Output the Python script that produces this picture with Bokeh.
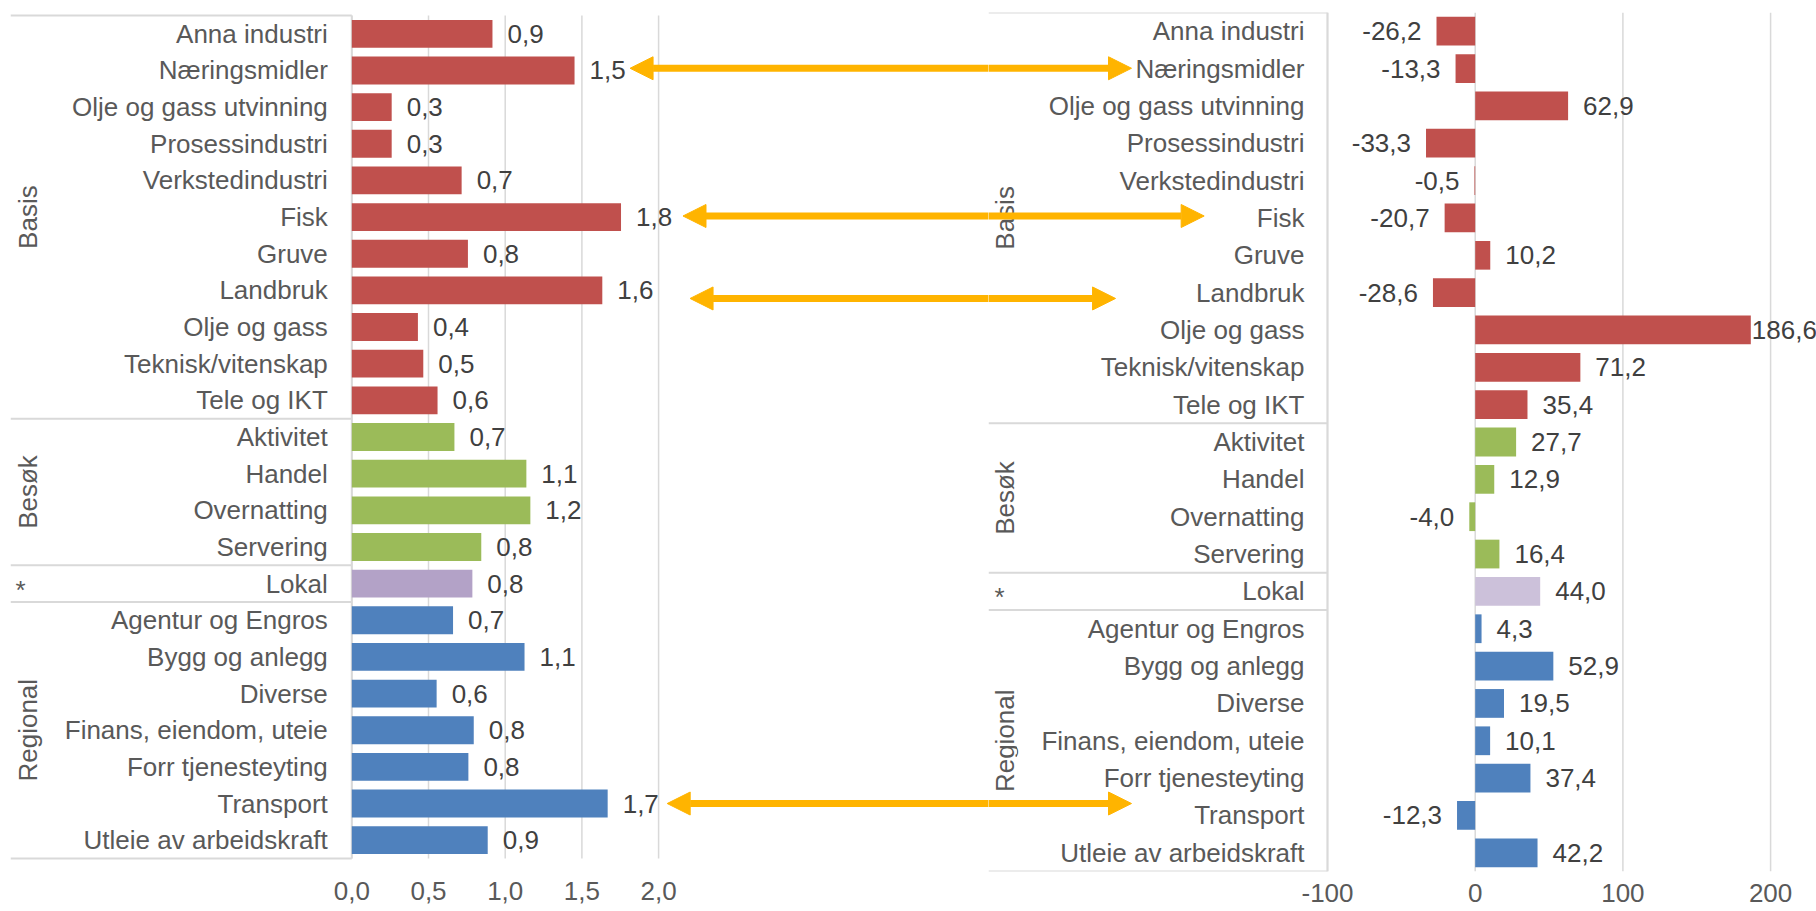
from bokeh.plotting import figure
from bokeh.models import Range1d, FixedTicker, CustomJSTickFormatter, Arrow, NormalHead
from bokeh.layouts import row
from bokeh.embed import file_html
from bokeh.resources import INLINE
from bokeh.core.properties import value

# ---------------- data ----------------
categories = ["Anna industri", "Næringsmidler", "Olje og gass utvinning", "Prosessindustri",
              "Verkstedindustri", "Fisk", "Gruve", "Landbruk", "Olje og gass",
              "Teknisk/vitenskap", "Tele og IKT", "Aktivitet", "Handel", "Overnatting",
              "Servering", "Lokal", "Agentur og Engros", "Bygg og anlegg", "Diverse",
              "Finans, eiendom, uteie", "Forr tjenesteyting", "Transport",
              "Utleie av arbeidskraft"]
groups = ["Basis"] * 11 + ["Besøk"] * 4 + ["*"] + ["Regional"] * 7
group_names = ["Basis", "Besøk", "*", "Regional"]

left_values = [0.917, 1.452, 0.26, 0.26, 0.716, 1.755, 0.757, 1.633, 0.431, 0.466, 0.559,
               0.669, 1.138, 1.164, 0.844, 0.786, 0.66, 1.126, 0.553, 0.795, 0.76, 1.668, 0.886]
right_values = [-26.2, -13.3, 62.9, -33.3, -0.5, -20.7, 10.2, -28.6, 186.6, 71.2, 35.4,
                27.7, 12.9, -4.0, 16.4, 44.0, 4.3, 52.9, 19.5, 10.1, 37.4, -12.3, 42.2]
left_ticks = [0, 0.5, 1.0, 1.5, 2.0]
right_ticks = [-100, 0, 100, 200]

arrow_rows = ["Næringsmidler", "Fisk", "Landbruk", "Transport"]

# ---------------- styles / layout ----------------
FONT = "Liberation Sans"
FS = "26px"
CAT_COLOR = "#595959"
LAB_COLOR = "#404040"
GRID = "#D9D9D9"
ORANGE = "#FFB400"
left_colors = {"Basis": "#C0504D", "Besøk": "#9BBB59", "*": "#B3A2C7", "Regional": "#4F81BD"}
right_colors = {"Basis": "#C0504D", "Besøk": "#9BBB59", "*": "#CCC1DA", "Regional": "#4F81BD"}

N = len(categories)
ypos = [i + 0.5 for i in range(N)]

# group spans
spans = []
start = 0
for i in range(1, N + 1):
    if i == N or groups[i] != groups[start]:
        spans.append((groups[start], start, i))
        start = i
bounds = [0] + [s[2] for s in spans]

# shared frame (pixels) -- Bokeh aligns frames of plots in a row
FRAME_TOP = 12
FRAME_H = 859
MB_BOTTOM = 40

# geometry of each panel (pixels)
L = dict(frame_w=978, mb_left=10, rows_top=15, rows_h=843, zero_px=341.3, ppu=153.4,
         box_edge=0, cat_off=-24, grp_off=17, star_off=10, bar_h=0.76, standoff=10)
R = dict(frame_w=828, mb_left=0, rows_top=12, rows_h=859, zero_px=486.7, ppu=1.477,
         box_edge=-100, cat_off=-23, grp_off=16, star_off=11, bar_h=0.77, standoff=12)

# arrow annotation geometry
arrow_left_tip = [1.814, 2.159, 2.205, 2.056]      # left value-axis units
arrow_right_tip = [-232.7, -183.5, -243.5, -232.7]  # right value-axis units
arrow_dy = [-0.06, -0.03, 0.22, 0.0]               # fraction of a row


def fmt(v):
    return f"{v:.1f}".replace(".", ",")


def build(values, g, colors, tick_list, tick_code):
    frame_w = g["frame_w"]
    row_h = g["rows_h"] / N
    x_start = -g["zero_px"] / g["ppu"]
    x_end = (frame_w - g["zero_px"]) / g["ppu"]
    y_start = (FRAME_TOP + FRAME_H - g["rows_top"]) / row_h
    y_end = (FRAME_TOP - g["rows_top"]) / row_h
    p = figure(frame_width=frame_w, frame_height=FRAME_H, x_range=Range1d(x_start, x_end),
               y_range=Range1d(y_start, y_end), output_backend="svg", toolbar_location=None,
               y_axis_location=None, title=None, align="start",
               min_border_left=g["mb_left"], min_border_right=0,
               min_border_top=FRAME_TOP, min_border_bottom=MB_BOTTOM)
    p.outline_line_color = None
    p.background_fill_color = "white"
    p.border_fill_color = "white"
    p.xgrid.visible = False
    p.ygrid.visible = False

    ax = p.xaxis[0]
    ax.ticker = FixedTicker(ticks=tick_list)
    ax.formatter = CustomJSTickFormatter(code=tick_code)
    ax.axis_line_color = None
    ax.major_tick_line_color = None
    ax.minor_tick_line_color = None
    ax.major_tick_out = 0
    ax.major_tick_in = 0
    ax.major_label_standoff = g["standoff"]
    ax.major_label_text_font = FONT
    ax.major_label_text_font_size = FS
    ax.major_label_text_color = CAT_COLOR

    # vertical gridlines over the plot rows
    p.segment(x0=tick_list, y0=[0] * len(tick_list), x1=tick_list, y1=[N] * len(tick_list),
              line_color=GRID, line_width=1.5)

    # category box lines
    edge = g["box_edge"]
    p.segment(x0=[x_start] * len(bounds), y0=bounds, x1=[edge] * len(bounds), y1=bounds,
              line_color=GRID, line_width=2)
    p.segment(x0=[edge], y0=[0], x1=[edge], y1=[N], line_color=GRID, line_width=2)

    # bars
    p.hbar(y=ypos, left=0, right=values, height=g["bar_h"],
           fill_color=[colors[gr] for gr in groups], line_color=None)

    # data labels
    labels = [fmt(v) for v in values]
    offs, aligns = [], []
    for v, lab in zip(values, labels):
        w = len(lab) * 0.55 * 26
        if v >= 0:
            o = 15
            end_px = g["zero_px"] + v * g["ppu"] + o + w
            if end_px > frame_w - 1:
                o = max(1, frame_w - 1 - w - (g["zero_px"] + v * g["ppu"]))
            offs.append(o)
            aligns.append("left")
        else:
            offs.append(-15)
            aligns.append("right")
    p.text(x=values, y=ypos, text=labels, x_offset=offs, text_align=aligns,
           text_baseline="middle", text_font=value(FONT), text_font_size=FS,
           text_color=LAB_COLOR)

    # category labels
    p.text(x=[edge] * N, y=ypos, text=categories, x_offset=g["cat_off"], text_align="right",
           text_baseline="middle", text_font=value(FONT), text_font_size=FS,
           text_color=CAT_COLOR)

    # group labels
    for name, a, b in spans:
        if name == "*":
            p.text(x=[x_start], y=[(a + b) / 2], text=[name], x_offset=g["star_off"], y_offset=6,
                   text_align="center", text_baseline="middle", text_font=value(FONT),
                   text_font_size=FS, text_color=CAT_COLOR)
        else:
            p.text(x=[x_start], y=[(a + b) / 2], text=[name], x_offset=g["grp_off"],
                   angle=1.5707963, text_align="center", text_baseline="middle",
                   text_font=value(FONT), text_font_size=FS, text_color=CAT_COLOR)
    return p, x_start, x_end


left, lx0, lx1 = build(left_values, L, left_colors, left_ticks,
                       "return tick.toFixed(1).replace('.', ',');")
right, rx0, rx1 = build(right_values, R, right_colors, right_ticks,
                        "return tick.toFixed(0);")

l_row = L["rows_h"] / N
r_row = R["rows_h"] / N
for name, tl, tr, dy in zip(arrow_rows, arrow_left_tip, arrow_right_tip, arrow_dy):
    idx = categories.index(name)
    yl = idx + 0.5 + dy
    page_y = L["rows_top"] + yl * l_row
    yr = (page_y - R["rows_top"]) / r_row
    left.add_layout(Arrow(x_start=tl, y_start=yl, x_end=lx1 + 1, y_end=yl,
                          start=NormalHead(size=23, fill_color=ORANGE, line_color=ORANGE,
                                           line_width=1),
                          end=None, line_color=ORANGE, line_width=7))
    right.add_layout(Arrow(x_start=rx0 - 5, y_start=yr, x_end=tr, y_end=yr, start=None,
                           end=NormalHead(size=23, fill_color=ORANGE, line_color=ORANGE,
                                          line_width=1),
                           line_color=ORANGE, line_width=7))

layout = row(left, right)
open("out.html", "w").write(file_html(layout, INLINE))
